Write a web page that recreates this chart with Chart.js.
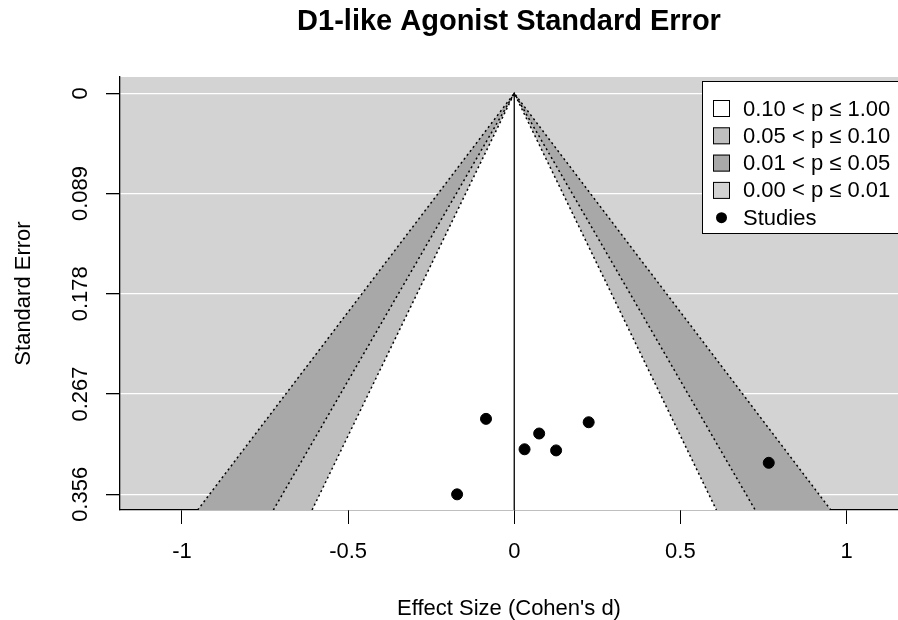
<!DOCTYPE html>
<html>
<head>
<meta charset="utf-8">
<script src="https://cdn.jsdelivr.net/npm/chart.js@4.4.1/dist/chart.umd.min.js"></script>
<style>
    html, body { margin: 0; padding: 0; background: #fff; }
</style>
</head>
<body>
<canvas id="funnelChart" width="898" height="620"></canvas>
<script>
// study estimates
const effectSizes = [-0.085, 0.075, 0.224, 0.031, 0.126, 0.766, -0.172];
const standardErrors = [0.289, 0.302, 0.292, 0.316, 0.317, 0.328, 0.356];

const xTicks = [-1, -0.5, 0, 0.5, 1];
const xTickLabels = ['-1', '-0.5', '0', '0.5', '1'];
const yTicks = [0, 0.089, 0.178, 0.267, 0.356];
const yTickLabels = ['0', '0.089', '0.178', '0.267', '0.356'];

// contour z values: p = 0.01, 0.05, 0.10
const contourZ = [2.576, 1.96, 1.645];
const contourFills = ['#a8a8a8', '#bfbfbf', '#ffffff'];

const legendLabels = ['0.10 < p \u2264 1.00', '0.05 < p \u2264 0.10', '0.01 < p \u2264 0.05', '0.00 < p \u2264 0.01', 'Studies'];
const legendFills = ['#ffffff', '#bfbfbf', '#a8a8a8', '#d3d3d3'];

const FONT = "'Liberation Sans', Arial, Helvetica, sans-serif";

const funnelPlugin = {
    id: 'funnel',
    beforeDraw(chart) {
        const { ctx, chartArea } = chart;
        ctx.save();
        ctx.fillStyle = '#d3d3d3';
        ctx.fillRect(chartArea.left, chartArea.top, chartArea.right - chartArea.left, chartArea.bottom - chartArea.top);
        ctx.restore();
    },
    beforeDatasetsDraw(chart) {
        const { ctx, chartArea } = chart;
        const x = chart.scales.x;
        const y = chart.scales.y;
        const seMax = y.max;
        const ax = x.getPixelForValue(0);
        const ay = y.getPixelForValue(0);
        const by = y.getPixelForValue(seMax);

        ctx.save();
        ctx.beginPath();
        ctx.rect(chartArea.left, chartArea.top, chartArea.right - chartArea.left, chartArea.bottom - chartArea.top);
        ctx.clip();

        contourZ.forEach((z, i) => {
            ctx.beginPath();
            ctx.moveTo(ax, ay);
            ctx.lineTo(x.getPixelForValue(-z * seMax), by);
            ctx.lineTo(x.getPixelForValue(z * seMax), by);
            ctx.closePath();
            ctx.fillStyle = contourFills[i];
            ctx.fill();
        });

        ctx.strokeStyle = '#000';
        ctx.lineWidth = 1.5;
        ctx.setLineDash([2, 3]);
        contourZ.forEach(z => {
            ctx.beginPath();
            ctx.moveTo(x.getPixelForValue(-z * seMax), by);
            ctx.lineTo(ax, ay);
            ctx.lineTo(x.getPixelForValue(z * seMax), by);
            ctx.stroke();
        });

        ctx.setLineDash([]);
        ctx.lineWidth = 1.3;
        ctx.beginPath();
        ctx.moveTo(ax, ay);
        ctx.lineTo(ax, by);
        ctx.stroke();
        ctx.restore();
    },
    afterDraw(chart) {
        const { ctx } = chart;
        const y = chart.scales.y;

        // rotated y tick labels, R style
        ctx.save();
        ctx.fillStyle = '#000';
        ctx.font = `22px ${FONT}`;
        ctx.textAlign = 'center';
        ctx.textBaseline = 'alphabetic';
        yTicks.forEach((v, i) => {
            ctx.save();
            ctx.translate(87, y.getPixelForValue(v));
            ctx.rotate(-Math.PI / 2);
            ctx.fillText(yTickLabels[i], 0, 0);
            ctx.restore();
        });
        ctx.restore();

        // legend box
        const left = 702, top = 81, bottom = 233, right = 910;
        ctx.save();
        ctx.fillStyle = '#fff';
        ctx.fillRect(left, top, right - left, bottom - top);
        ctx.strokeStyle = '#000';
        ctx.lineWidth = 1;
        ctx.strokeRect(left + 0.5, top + 0.5, right - left, bottom - top);

        ctx.font = `22px ${FONT}`;
        ctx.textAlign = 'left';
        ctx.textBaseline = 'middle';
        legendLabels.forEach((label, i) => {
            const cy = 108.5 + i * 27.3;
            if (i < legendFills.length) {
                ctx.fillStyle = legendFills[i];
                ctx.fillRect(713, cy - 8.5, 17, 17);
                ctx.strokeStyle = '#000';
                ctx.strokeRect(713.5, cy - 8, 16, 16);
            } else {
                ctx.fillStyle = '#000';
                ctx.beginPath();
                ctx.arc(721.5, cy, 5.5, 0, Math.PI * 2);
                ctx.fill();
            }
            ctx.fillStyle = '#000';
            ctx.fillText(label, 743, cy + 1);
        });
        ctx.restore();
    }
};

const ctx = document.getElementById('funnelChart').getContext('2d');
new Chart(ctx, {
    type: 'scatter',
    data: {
        datasets: [{
            label: 'Studies',
            data: effectSizes.map((v, i) => ({ x: v, y: standardErrors[i] })),
            backgroundColor: '#000',
            borderColor: '#000',
            pointRadius: 5.5,
            pointHoverRadius: 5.5
        }]
    },
    options: {
        responsive: false,
        animation: false,
        devicePixelRatio: 1,
        layout: { padding: 0, autoPadding: false },
        scales: {
            x: {
                type: 'linear',
                min: -1.1866,
                max: 1.155,
                z: 1,
                afterBuildTicks: scale => { scale.ticks = xTicks.map(v => ({ value: v })); },
                afterFit: scale => {
                    scale.height = 110;
                    scale.paddingLeft = 0;
                    scale.paddingRight = 0;
                },
                ticks: {
                    callback: (value, index) => xTickLabels[index],
                    color: '#000',
                    font: { family: FONT, size: 22 },
                    padding: 15,
                    maxRotation: 0,
                    autoSkip: false
                },
                grid: { drawOnChartArea: false, drawTicks: true, tickLength: 14, tickColor: '#000' },
                border: { display: true, color: '#000', width: 1.3 },
                title: {
                    display: true,
                    text: "Effect Size (Cohen's d)",
                    color: '#000',
                    font: { family: FONT, size: 22 },
                    padding: { top: 0, bottom: -2.5 }
                }
            },
            y: {
                type: 'linear',
                reverse: true,
                min: -0.01447,
                max: 0.3699,
                afterBuildTicks: scale => { scale.ticks = yTicks.map(v => ({ value: v })); },
                afterFit: scale => {
                    scale.width = 120;
                    scale.paddingTop = 0;
                    scale.paddingBottom = 0;
                },
                ticks: { display: false },
                grid: { color: '#ffffff', lineWidth: 1.3, drawTicks: true, tickLength: 14, tickColor: '#000' },
                border: { display: true, color: '#000', width: 1.3 },
                title: {
                    display: true,
                    text: 'Standard Error',
                    color: '#000',
                    font: { family: FONT, size: 22 },
                    padding: { top: 11, bottom: 11 }
                }
            }
        },
        plugins: {
            legend: { display: false },
            tooltip: { enabled: false },
            title: {
                display: true,
                text: 'D1-like Agonist Standard Error',
                fullSize: false,
                color: '#000',
                font: { family: FONT, size: 29, weight: 'bold' },
                padding: { top: 4.5, bottom: 37.7 }
            }
        }
    },
    plugins: [funnelPlugin]
});
</script>
</body>
</html>
